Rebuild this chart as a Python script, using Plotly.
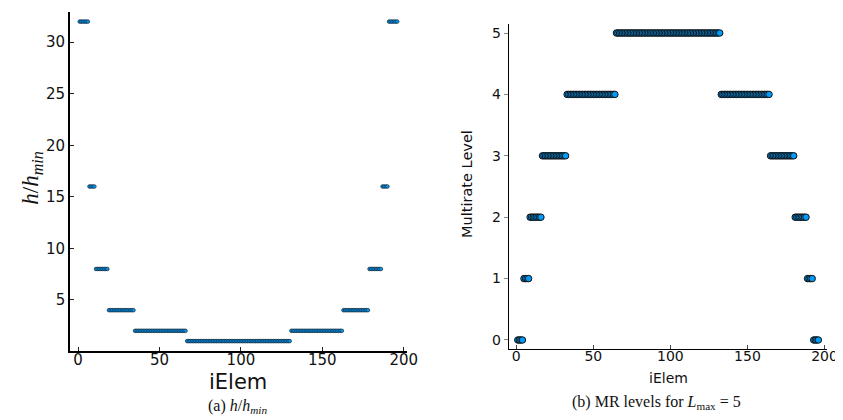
import plotly.graph_objects as go

# ---- data ----
# (a) h/h_min: run-length segments along the element index
h_values = [32, 16, 8, 4, 2, 1, 2, 4, 8, 16, 32]
h_counts = [6, 4, 8, 16, 32, 64, 32, 16, 8, 4, 6]
# (b) multirate level: run-length segments along the element index
mr_levels = [0, 1, 2, 3, 4, 5, 4, 3, 2, 1, 0]
mr_counts = [4, 4, 8, 16, 32, 68, 32, 16, 8, 4, 4]
x_ticks = [0, 50, 100, 150, 200]
h_ticks = [5, 10, 15, 20, 25, 30]
mr_ticks = [0, 1, 2, 3, 4, 5]


def expand(values, counts):
    xs, ys = [], []
    i = 1
    for v, n in zip(values, counts):
        for _ in range(n):
            xs.append(i)
            ys.append(v)
            i += 1
    return xs, ys


xa, ya = expand(h_values, h_counts)
xb, yb = expand(mr_levels, mr_counts)

BLUE = "#009AFA"
W, H = 843, 420

fig = go.Figure()
fig.add_trace(go.Scatter(
    x=xa, y=ya, mode="markers", xaxis="x", yaxis="y",
    marker=dict(size=3.6, color=BLUE, line=dict(width=0.7, color="#10202c")),
    showlegend=False, hoverinfo="skip"))
fig.add_trace(go.Scatter(
    x=xb, y=yb, mode="markers", xaxis="x2", yaxis="y2",
    marker=dict(size=6.5, color=BLUE, line=dict(width=1, color="#111111")),
    showlegend=False, hoverinfo="skip"))

tickfont_a = dict(family="DejaVu Sans", size=15, color="#111111")
tickfont_b = dict(family="DejaVu Sans", size=14, color="#111111")

fig.update_layout(
    width=W, height=H,
    margin=dict(l=0, r=0, t=0, b=0),
    paper_bgcolor="white", plot_bgcolor="white",
    xaxis=dict(domain=[63 / W, 404 / W], range=[-4.85, 201.85],
               tickvals=x_ticks, ticks="inside", ticklen=4, tickwidth=1, tickcolor="#222",
               showline=True, linecolor="black", linewidth=2, showgrid=False, zeroline=False,
               tickfont=tickfont_a, anchor="y", ticklabelstandoff=-6),
    yaxis=dict(domain=[1 - 342.7 / H, 1 - 4 / H], range=[0.07, 32.93],
               tickvals=h_ticks, ticks="inside", ticklen=4, tickwidth=1, tickcolor="#222",
               showline=True, linecolor="black", linewidth=2, showgrid=False, zeroline=False,
               tickfont=tickfont_a, anchor="x"),
    xaxis2=dict(domain=[507.4 / W, 830.2 / W], range=[-4.85, 201.85],
                tickvals=x_ticks, ticks="inside", ticklen=4, tickwidth=1, tickcolor="#444",
                showline=True, linecolor="black", linewidth=1.3, showgrid=False, zeroline=False,
                tickfont=tickfont_b, anchor="y2", ticklabelstandoff=-6),
    yaxis2=dict(domain=[1 - 341.2 / H, 1 - 15.8 / H], range=[-0.15, 5.15],
                tickvals=mr_ticks, ticks="outside", ticklen=4, tickwidth=1, tickcolor="#888",
                showline=True, linecolor="black", linewidth=1.3, showgrid=False, zeroline=False,
                tickfont=tickfont_b, anchor="x2"),
)

def px_ann(text, x, y, size, family, angle=0):
    return dict(text=text, x=x / W, y=1 - y / H, xref="paper", yref="paper",
                showarrow=False, textangle=angle, xanchor="center", yanchor="middle",
                font=dict(family=family, size=size, color="#111111"))

fig.update_layout(annotations=[
    px_ann("iElem", 233, 374, 21, "DejaVu Sans"),
    px_ann("<i>h</i>/<i>h</i><sub><i>min</i></sub>", 24, 170, 23, "Liberation Serif", -90),
    px_ann("(a) <i>h</i>/<i>h</i><sub><i>min</i></sub>", 233, 398, 16, "Liberation Serif"),
    px_ann("iElem", 669, 370, 14, "DejaVu Sans"),
    px_ann("Multirate Level", 465, 176, 14.5, "DejaVu Sans", -90),
    px_ann("(b) MR levels for <i>L</i><sub>max</sub> = 5", 657, 394, 16, "Liberation Serif"),
])

fig.write_html("out.html")
